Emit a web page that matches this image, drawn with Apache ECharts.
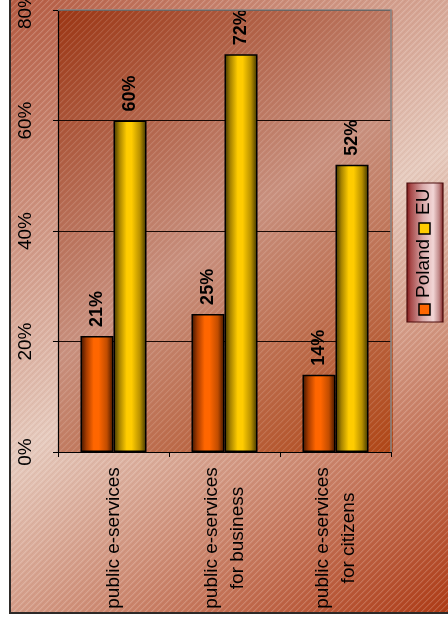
<!DOCTYPE html>
<html>
<head>
<meta charset="utf-8">
<script src="https://cdn.jsdelivr.net/npm/echarts@6/dist/echarts.min.js"></script>
<style>
  html, body { margin: 0; padding: 0; background: #ffffff; }
  #chart { width: 448px; height: 627px; }
</style>
</head>
<body>
<div id="chart"></div>
<script>
// Share of public e-services available online: Poland vs EU average
const categories = [
  'public e-services',
  'public e-services\nfor business',
  'public e-services\nfor citizens'
];
const polandValues = [21, 25, 14];
const euValues = [60, 72, 52];
const valueTicks = [0, 20, 40, 60, 80];
const seriesNames = ['Poland', 'EU'];

const FONT = '"Liberation Sans", Arial, sans-serif';

// Plot rectangle (pixels)
const G = { left: 58, top: 10, right: 391, bottom: 452 };

// Fine diagonal hatch (rising to the right) laid over the background fills
function makeHatch() {
  const c = document.createElement('canvas');
  c.width = 6; c.height = 6;
  const ctx = c.getContext('2d');
  for (let y = 0; y < 6; y++) {
    for (let x = 0; x < 6; x++) {
      const d = (x + y) % 6;
      if (d < 2) {
        ctx.fillStyle = ((x + y) % 2 === 0) ? 'rgba(255,255,255,0.18)' : 'rgba(255,255,255,0.08)';
        ctx.fillRect(x, y, 1, 1);
      } else if (d === 3) {
        ctx.fillStyle = 'rgba(60,0,0,0.04)';
        ctx.fillRect(x, y, 1, 1);
      }
    }
  }
  return c;
}
const hatch = { image: makeHatch(), repeat: 'repeat' };

function cylinder(edge, mid, bright, mid2, edge2) {
  return new echarts.graphic.LinearGradient(0, 0, 1, 0, [
    { offset: 0, color: edge },
    { offset: 0.18, color: mid },
    { offset: 0.4, color: bright },
    { offset: 0.55, color: bright },
    { offset: 0.8, color: mid2 },
    { offset: 1, color: edge2 }
  ]);
}
const polandFill = cylinder('#3a1200', '#a83c00', '#ff6600', '#c04c00', '#3a1200');
const euFill = cylinder('#3a3000', '#a88400', '#ffcc00', '#b89000', '#3a3000');

const chart = echarts.init(document.getElementById('chart'), null, { renderer: 'canvas' });

const legendW = 139, legendH = 36;

chart.setOption({
  animation: false,
  backgroundColor: '#ffffff',
  textStyle: { fontFamily: FONT },
  grid: {
    left: G.left, top: G.top,
    right: 448 - G.right, bottom: 627 - G.bottom,
    containLabel: false,
    outerBoundsMode: 'none'
  },
  xAxis: {
    type: 'category',
    data: categories,
    axisLine: { show: true, lineStyle: { color: '#000', width: 1.2 } },
    axisTick: { show: true, length: 5, alignWithLabel: false, lineStyle: { color: '#000' } },
    axisLabel: {
      interval: 0,
      rotate: 90,
      align: 'center',
      verticalAlign: 'middle',
      margin: 86,
      color: '#000',
      fontFamily: FONT,
      fontSize: 19,
      lineHeight: 26
    },
    splitLine: { show: false }
  },
  yAxis: {
    type: 'value',
    min: valueTicks[0],
    max: valueTicks[valueTicks.length - 1],
    interval: 20,
    axisLine: { show: true, lineStyle: { color: '#000', width: 1.2 } },
    axisTick: { show: true, length: 5, lineStyle: { color: '#000' } },
    axisLabel: {
      rotate: 90,
      margin: 23,
      color: '#000',
      fontFamily: FONT,
      fontSize: 19,
      formatter: '{value}%'
    },
    splitLine: { show: true, lineStyle: { color: '#1a0a05', width: 1 } }
  },
  series: [
    {
      name: seriesNames[0],
      type: 'bar',
      data: polandValues,
      barGap: '0%',
      barCategoryGap: '40.5%',
      itemStyle: { color: polandFill, borderColor: '#000', borderWidth: 1.5 },
      label: {
        show: true, position: 'top', distance: 9, rotate: 90,
        align: 'left', verticalAlign: 'middle',
        formatter: '{c}%', color: '#000',
        fontFamily: FONT, fontSize: 18, fontWeight: 'bold'
      }
    },
    {
      name: seriesNames[1],
      type: 'bar',
      data: euValues,
      barGap: '0%',
      barCategoryGap: '40.5%',
      itemStyle: { color: euFill, borderColor: '#000', borderWidth: 1.5 },
      label: {
        show: true, position: 'top', distance: 9, rotate: 90,
        align: 'left', verticalAlign: 'middle',
        formatter: '{c}%', color: '#000',
        fontFamily: FONT, fontSize: 18, fontWeight: 'bold'
      }
    }
  ],
  graphic: [
    // Outer chart area
    {
      type: 'rect', z: -10, silent: true,
      shape: { x: 10, y: -10, width: 450, height: 623 },
      style: {
        fill: new echarts.graphic.LinearGradient(0, 0, 1, 1, [
          { offset: 0, color: '#b4583e' },
          { offset: 0.5, color: '#e6cabd' },
          { offset: 1, color: '#ad3812' }
        ]),
        stroke: '#2e2a28', lineWidth: 2
      }
    },
    {
      type: 'rect', z: -9, silent: true,
      shape: { x: 11, y: -10, width: 450, height: 622 },
      style: { fill: hatch }
    },
    // Plot area
    {
      type: 'rect', z: -8, silent: true,
      shape: { x: G.left, y: G.top, width: G.right - G.left + 2, height: G.bottom - G.top },
      style: {
        fill: new echarts.graphic.LinearGradient(0, 0, 1, 1, [
          { offset: 0, color: '#9c3614' },
          { offset: 0.5, color: '#c9917f' },
          { offset: 1, color: '#b04616' }
        ])
      }
    },
    {
      type: 'rect', z: -7, silent: true,
      shape: { x: G.left, y: G.top, width: G.right - G.left + 2, height: G.bottom - G.top },
      style: { fill: hatch, opacity: 0.7 }
    },
    // Grey frame on the top and right of the plot area
    {
      type: 'polyline', z: 20, silent: true,
      shape: { points: [[G.left, G.top], [G.right, G.top], [G.right, G.bottom]] },
      style: { stroke: '#858585', lineWidth: 1.5, fill: null }
    },
    // Legend, drawn sideways like the rest of the chart
    {
      type: 'group', z: 30,
      x: 407, y: 322, rotation: Math.PI / 2,
      children: [
        {
          type: 'rect',
          shape: { x: 0, y: 0, width: legendW, height: legendH },
          style: {
            fill: new echarts.graphic.LinearGradient(0, 0, 0, 1, [
              { offset: 0, color: '#7a1212' },
              { offset: 0.12, color: '#a84a4a' },
              { offset: 0.45, color: '#d9aaaa' },
              { offset: 0.72, color: '#f2d6d6' },
              { offset: 0.88, color: '#c08888' },
              { offset: 1, color: '#7a1414' }
            ]),
            stroke: '#4a0c0c', lineWidth: 1.2
          }
        },
        {
          type: 'rect',
          shape: { x: 7, y: 12, width: 11, height: 11 },
          style: { fill: '#ff6600', stroke: '#000', lineWidth: 1.5 }
        },
        {
          type: 'text',
          style: {
            x: 24, y: 17, text: seriesNames[0],
            font: '19px ' + FONT, fill: '#000',
            textAlign: 'left', textVerticalAlign: 'middle'
          }
        },
        {
          type: 'rect',
          shape: { x: 88, y: 12, width: 11, height: 11 },
          style: { fill: '#ffcc00', stroke: '#000', lineWidth: 1.5 }
        },
        {
          type: 'text',
          style: {
            x: 107, y: 17, text: seriesNames[1],
            font: '19px ' + FONT, fill: '#000',
            textAlign: 'left', textVerticalAlign: 'middle'
          }
        }
      ]
    }
  ]
});
</script>
</body>
</html>
